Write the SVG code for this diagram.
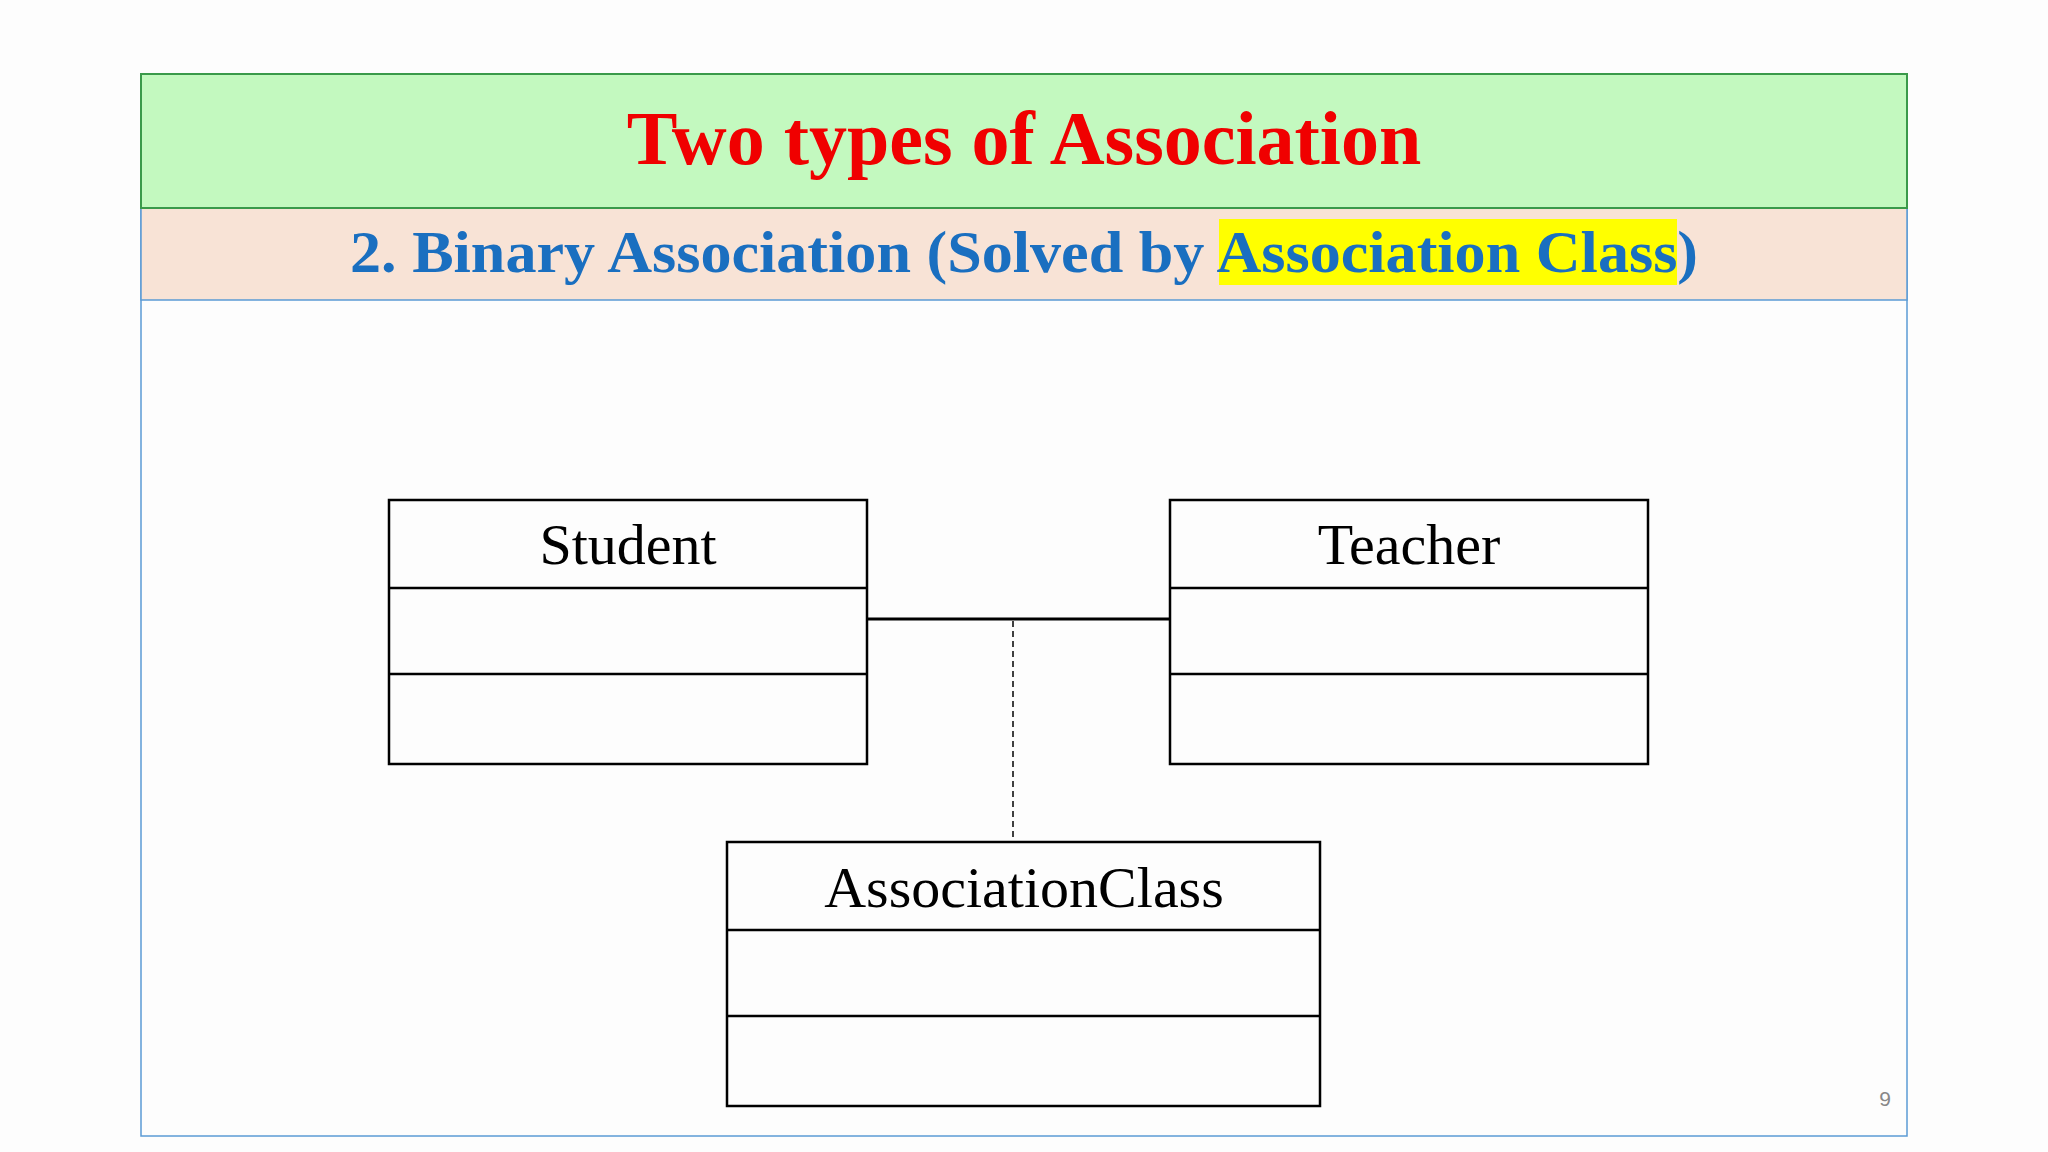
<svg xmlns="http://www.w3.org/2000/svg" width="2048" height="1152" viewBox="0 0 2048 1152">
<style>
.box{fill:none;stroke:#000;stroke-width:2.5}
.lbl{font-family:"Liberation Serif",serif;font-size:58px;text-anchor:middle;fill:#000}
</style>
<rect width="2048" height="1152" fill="#fdfdfd"/>
<rect x="141" y="74" width="1766" height="1062" fill="#fdfdfd" stroke="#5b9bd5" stroke-width="1.5"/>
<rect x="141" y="208" width="1766" height="92" fill="#f8e3d6" stroke="#5b9bd5" stroke-width="1.5"/>
<rect x="141" y="74" width="1766" height="134" fill="#c3f9bf" stroke="#3a9a4a" stroke-width="2"/>
<text x="1024" y="164" font-family="Liberation Serif,serif" font-weight="bold" font-size="76" fill="#f00000" text-anchor="middle">Two types of Association</text>
<rect x="1219" y="219" width="458" height="66" fill="#ffff00"/>
<text x="1024" y="272" font-family="Liberation Serif,serif" font-weight="bold" font-size="60" fill="#1a6fc0" text-anchor="middle" textLength="1348" lengthAdjust="spacingAndGlyphs">2. Binary Association (Solved by Association Class)</text>
<g id="connectors">
<line x1="867" y1="619" x2="1170" y2="619" stroke="#000" stroke-width="3"/>
<line x1="1013" y1="621" x2="1013" y2="842" stroke="#000" stroke-width="1.5" stroke-dasharray="6,4"/>
</g>
<g id="student">
<rect class="box" x="389" y="500" width="478" height="264"/>
<line class="box" x1="389" y1="588" x2="867" y2="588"/>
<line class="box" x1="389" y1="674" x2="867" y2="674"/>
<text class="lbl" x="628" y="564">Student</text>
</g>
<g id="teacher">
<rect class="box" x="1170" y="500" width="478" height="264"/>
<line class="box" x1="1170" y1="588" x2="1648" y2="588"/>
<line class="box" x1="1170" y1="674" x2="1648" y2="674"/>
<text class="lbl" x="1409" y="564">Teacher</text>
</g>
<g id="associationclass">
<rect class="box" x="727" y="842" width="593" height="264"/>
<line class="box" x1="727" y1="930" x2="1320" y2="930"/>
<line class="box" x1="727" y1="1016" x2="1320" y2="1016"/>
<text class="lbl" x="1024" y="907">AssociationClass</text>
</g>
<text x="1885" y="1106" font-family="Liberation Sans,sans-serif" font-size="21" fill="#888" text-anchor="middle">9</text>
</svg>
